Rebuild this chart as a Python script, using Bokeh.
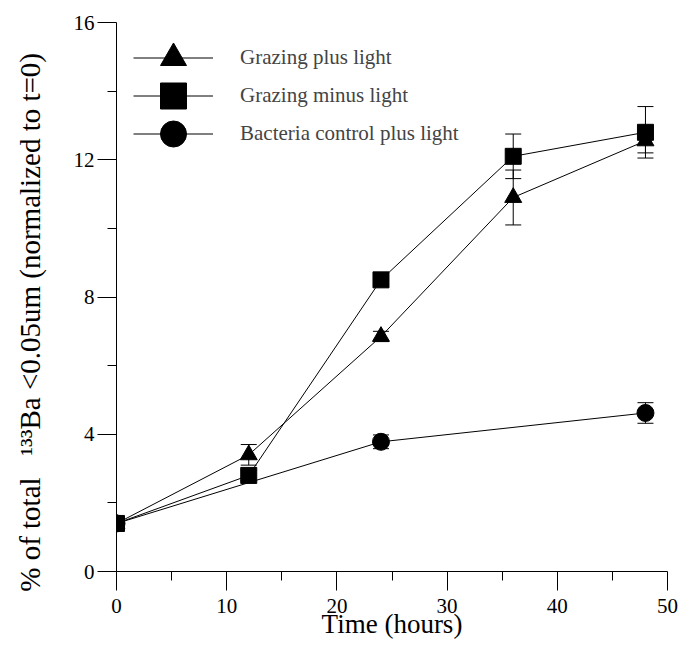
import numpy as np
from bokeh.plotting import figure
from bokeh.models import ColumnDataSource, Whisker, TeeHead, FixedTicker, Legend, LegendItem
from bokeh.embed import file_html
from bokeh.resources import INLINE

# ---- data ----
hours = [0, 12, 24, 36, 48]
grazing_light = [1.4, 3.4, 6.85, 10.9, 12.55]
grazing_light_err = [0.0, 0.3, 0.15, 0.8, 0.35]
grazing_dark = [1.4, 2.8, 8.5, 12.1, 12.8]
grazing_dark_err = [0.0, 0.15, 0.1, 0.65, 0.75]
bact_hours = [0, 24, 48]
bacteria = [1.4, 3.78, 4.62]
bacteria_err = [0.0, 0.2, 0.3]

series_labels = ["Grazing plus light", "Grazing minus light", "Bacteria control plus light"]
x_ticks = [0, 10, 20, 30, 40, 50]
x_minor = [5, 15, 25, 35, 45]
y_ticks = [0, 4, 8, 12, 16]
y_minor = [2, 6, 10, 14]

FONT = "Liberation Serif"

p = figure(width=682, height=646, output_backend="svg", toolbar_location=None,
           x_range=(0, 50), y_range=(0, 16),
           min_border_left=116, min_border_right=15, min_border_top=22, min_border_bottom=75)
p.grid.visible = False
p.outline_line_color = None
p.background_fill_color = "white"
p.border_fill_color = "white"

def mk(xs, ys, es):
    return ColumnDataSource(dict(x=xs, y=ys, lo=[a - b for a, b in zip(ys, es)],
                                 hi=[a + b for a, b in zip(ys, es)]))

src_l = mk(hours, grazing_light, grazing_light_err)
src_d = mk(hours, grazing_dark, grazing_dark_err)
src_b = mk(bact_hours, bacteria, bacteria_err)

for s in (src_b, src_l, src_d):
    w = Whisker(source=s, base="x", lower="lo", upper="hi", line_color="black", line_width=1,
                upper_head=TeeHead(size=16, line_color="black", line_width=1),
                lower_head=TeeHead(size=16, line_color="black", line_width=1))
    p.add_layout(w)

lb = p.line("x", "y", source=src_b, line_color="black", line_width=1)
ll = p.line("x", "y", source=src_l, line_color="black", line_width=1)
ld = p.line("x", "y", source=src_d, line_color="black", line_width=1)
sb = p.scatter("x", "y", source=src_b, marker="circle", size=17, fill_color="black", line_color="black")
sl = p.scatter("x", "y", source=src_l, marker="triangle", size=17, fill_color="black", line_color="black")
sd = p.scatter("x", "y", source=src_d, marker="square", size=16, fill_color="black", line_color="black")

# one legend per entry so the big legend markers can sit close together
for label, rends, vy in zip(series_labels, [[ll, sl], [ld, sd], [lb, sb]], [481, 443, 405]):
    lg = Legend(items=[LegendItem(label=label, renderers=rends)],
                location=(17, vy), glyph_width=80, glyph_height=65,
                label_text_font=FONT, label_text_font_size="21px", label_standoff=27,
                label_text_baseline="middle", border_line_color=None, background_fill_alpha=0,
                padding=0, margin=0)
    p.add_layout(lg)

for ax in (p.xaxis[0], p.yaxis[0]):
    ax.axis_line_color = "black"
    ax.major_tick_line_color = "black"
    ax.minor_tick_line_color = "black"
    ax.major_tick_in = 0
    ax.minor_tick_in = 0
    ax.major_tick_out = 19
    ax.minor_tick_out = 9
    ax.major_label_text_font = FONT
    ax.major_label_text_font_size = "21px"
    ax.major_label_text_color = "black"
    ax.axis_label_text_font = FONT
    ax.axis_label_text_font_style = "normal"
    ax.axis_label_text_color = "black"

p.xaxis.ticker = FixedTicker(ticks=x_ticks, minor_ticks=x_minor)
p.yaxis.ticker = FixedTicker(ticks=y_ticks, minor_ticks=y_minor)
p.xaxis.axis_label = "Time (hours)"
p.xaxis.axis_label_text_font_size = "27px"
p.xaxis.major_label_standoff = 8
p.xaxis.axis_label_standoff = -7
NB = "\u00a0"
p.yaxis.axis_label = "% of total" + NB * 3 + "¹³³Ba <0.05um (normalized to t=0)" + NB * 7
p.yaxis.axis_label_text_font_size = "29px"
p.yaxis.major_label_standoff = 3
p.yaxis.axis_label_standoff = 25

open("out.html", "w").write(file_html(p, INLINE))
